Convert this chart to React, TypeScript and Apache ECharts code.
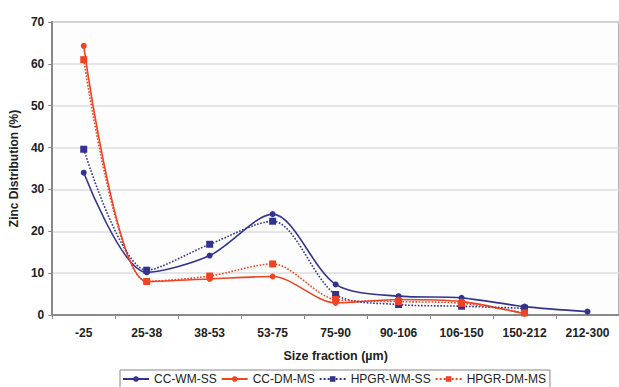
import React, { useEffect, useRef } from "react";
import * as echarts from "echarts";

const categories = ["-25", "25-38", "38-53", "53-75", "75-90", "90-106", "106-150", "150-212", "212-300"];
const ccWmSs = [34.0, 10.2, 14.2, 24.1, 7.3, 4.5, 4.1, 2.0, 0.8];
const ccDmMs = [64.3, 8.0, 8.6, 9.2, 2.9, 3.7, 3.2, 0.3, null];
const hpgrWmSs = [39.6, 10.7, 16.9, 22.4, 4.9, 2.5, 2.1, 1.6, null];
const hpgrDmMs = [61.0, 8.0, 9.3, 12.2, 3.7, 3.2, 2.8, 0.5, null];
const yTicks = { min: 0, max: 70, interval: 10 };

const BLUE = "#33338f";
const RED = "#ee4422";

export default function App() {
  const ref = useRef<HTMLDivElement>(null);
  useEffect(() => {
    if (!ref.current) return;
    const chart = echarts.init(ref.current, null, { renderer: "svg" });
    const mk = (name: string, data: (number | null)[], color: string, symbol: string, dotted: boolean) => ({
      name,
      type: "line",
      data,
      smooth: 0.3,
      symbol,
      symbolSize: symbol === "rect" ? 7 : 6,
      connectNulls: false,
      lineStyle: { color, width: 1.6, type: dotted ? "dotted" : "solid" },
      itemStyle: { color },
    });
    chart.setOption({
      animation: false,
      backgroundColor: "#ffffff",
      textStyle: { fontFamily: "Liberation Sans, Arial, sans-serif" },
      grid: {
        left: 49,
        top: 22,
        right: -1,
        bottom: 72,
        show: true,
        borderColor: "#999999",
        borderWidth: 1.5,
        backgroundColor: "#fdfdfd",
      },
      legend: {
        bottom: -6,
        left: 120,
        itemWidth: 26,
        itemHeight: 7,
        itemGap: 4,
        padding: [3, 4, 8, 2],
        borderColor: "#888888",
        borderWidth: 1,
        textStyle: { fontSize: 12, color: "#222", fontFamily: "Liberation Sans, Arial, sans-serif" },
        data: ["CC-WM-SS", "CC-DM-MS", "HPGR-WM-SS", "HPGR-DM-MS"],
      },
      xAxis: {
        type: "category",
        data: categories,
        boundaryGap: true,
        name: "Size fraction (µm)",
        nameLocation: "middle",
        nameGap: 34,
        nameTextStyle: { fontWeight: "bold", fontSize: 12.5, color: "#222" },
        axisLine: { lineStyle: { color: "#888888", width: 2 } },
        axisTick: { show: true, length: 4, lineStyle: { color: "#888888" } },
        axisLabel: { fontWeight: "bold", fontSize: 12, color: "#222", margin: 12 },
        splitLine: { show: false },
      },
      yAxis: {
        type: "value",
        min: yTicks.min,
        max: yTicks.max,
        interval: yTicks.interval,
        name: "Zinc Distribution (%)",
        nameLocation: "middle",
        nameGap: 31,
        nameRotate: 90,
        nameTextStyle: { fontWeight: "bold", fontSize: 12, color: "#222" },
        axisLine: { show: true, lineStyle: { color: "#888888", width: 2 } },
        axisTick: { show: true, length: 4, lineStyle: { color: "#888888" } },
        axisLabel: { fontWeight: "bold", fontSize: 12, color: "#222", margin: 8 },
        splitLine: { show: true, lineStyle: { color: "#dddddd", width: 1.5 } },
      },
      series: [
        mk("CC-WM-SS", ccWmSs, BLUE, "circle", false),
        mk("CC-DM-MS", ccDmMs, RED, "circle", false),
        mk("HPGR-WM-SS", hpgrWmSs, BLUE, "rect", true),
        mk("HPGR-DM-MS", hpgrDmMs, RED, "rect", true),
      ],
    });
    return () => chart.dispose();
  }, []);
  return (
    <div
      ref={ref}
      style={{ position: "fixed", left: 0, top: 0, width: 619, height: 387, background: "#fff" }}
    />
  );
}
